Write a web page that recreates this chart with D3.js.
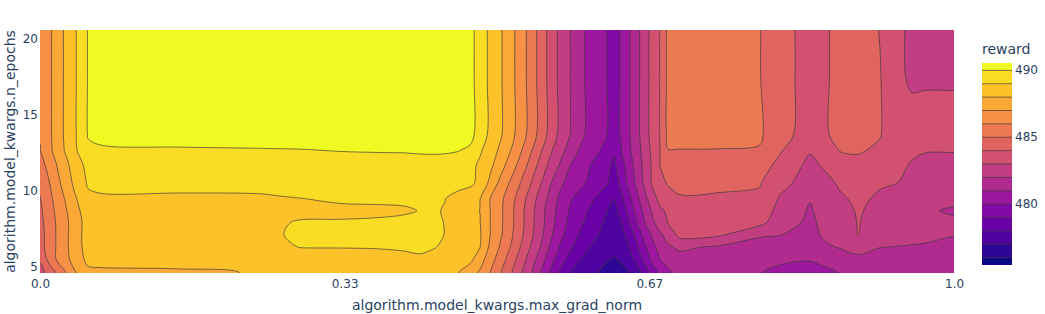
<!DOCTYPE html>
<html><head><meta charset="utf-8">
<script src="https://cdn.jsdelivr.net/npm/d3@7"></script>
<style>body{margin:0;background:#fff}svg{display:block}text{font-family:"DejaVu Sans",Verdana,sans-serif;fill:#2a3f5f}</style>
</head><body>
<svg id="chart" width="1045" height="314"></svg>
<script>
// ---- data ----
const xValues = [0, 0.0131, 0.0263, 0.0394, 0.0525, 0.0657, 0.1532, 0.2407, 0.2626, 0.2845, 0.3282, 0.3720, 0.3993, 0.4158, 0.4289, 0.4431, 0.4573,
  0.4705, 0.4814, 0.4923, 0.5033, 0.5142, 0.5252, 0.5361, 0.5471, 0.5580, 0.5689, 0.5799, 0.5908, 0.6018, 0.6127, 0.6204, 0.6280, 0.6357, 0.6433,
  0.6521, 0.6608, 0.6696, 0.6783, 0.6871, 0.7002, 0.7440, 0.7877, 0.8096, 0.8425, 0.8567, 0.8753, 0.8950, 0.9190, 0.9409, 0.9540, 0.9683, 1.0];
const yValues = [20.5, 17.3, 13.6, 12.6, 11.6, 10.4, 9.4, 8.6, 7.8, 7.0, 6.2, 5.4, 4.5];
// reward per x column, listed from top (n_epochs 20.5) to bottom (4.5)
const rewardByColumn = [
  [486.05,486.05,486.05,485.97,485.55,485.15,484.96,484.8,484.7,484.6,484.6,484.1,483.7],
  [487.03,487.03,487.03,486.99,486.6,486.2,485.96,485.82,485.73,485.7,485.7,485.7,484.56],
  [488.05,488.05,488.05,487.99,487.62,487.33,486.96,486.77,486.64,486.64,486.64,486.6,485.8],
  [488.98,488.98,488.98,488.92,488.54,488.31,487.96,487.75,487.58,487.64,487.64,487.46,486.98],
  [490.05,490.05,490.05,489.85,489.3,489.1,488.8,488.5,488.4,488.4,488.35,488.25,487.75],
  [490.3,490.3,490.2,489.9,489.6,489.22,488.88,488.7,488.55,488.5,488.45,488.3,487.8],
  [490.4,490.4,490.3,489.93,489.62,489.24,488.86,488.7,488.55,488.5,488.45,488.35,487.85],
  [490.45,490.45,490.32,489.96,489.64,489.26,488.88,488.72,488.55,488.55,488.5,488.35,488.05],
  [490.45,490.45,490.33,489.97,489.65,489.25,488.95,488.8,488.95,488.95,488.85,488.4,488.1],
  [490.45,490.45,490.33,489.98,489.67,489.3,488.99,488.85,489.05,489.2,489.02,488.5,488.15],
  [490.45,490.45,490.35,490.03,489.72,489.4,489.08,488.88,489.05,489.25,489.03,488.6,488.2],
  [490.45,490.45,490.35,490.05,489.75,489.45,489.1,488.9,489.08,489.25,489.05,488.7,488.25],
  [490.45,490.45,490.35,490.06,489.75,489.45,489.12,488.93,489.15,489.25,489.1,488.8,488.25],
  [490.45,490.45,490.35,490.08,489.78,489.45,489.15,489.02,489.2,489.25,489.12,488.9,488.25],
  [490.45,490.45,490.35,490.1,489.75,489.4,489.2,489.1,489.15,489.2,489.05,488.8,488.2],
  [490.45,490.45,490.35,490.1,489.7,489.35,489.02,488.95,488.98,488.98,488.9,488.6,488.1],
  [490.4,490.4,490.35,490.05,489.55,489.3,488.7,488.5,488.55,488.55,488.5,488.35,488.02],
  [490.3,490.3,490.3,489.85,489.3,489.2,488.35,488.2,488.28,488.31,488.2,488.25,487.44],
  [489.57,489.57,489.57,489.14,488.82,488.73,488.03,487.99,488.03,488.1,488.02,487.44,486.83],
  [488.79,488.79,488.79,488.5,488.24,487.78,487.02,487.02,487.02,487.02,486.82,486.45,486.02],
  [488.15,488.15,488.15,487.85,487.45,486.75,486.29,486.23,486.23,486.17,485.91,485.55,485.09],
  [487.39,487.39,487.39,487.08,486.58,485.91,485.45,485.36,485.36,485.27,485.02,484.6,484.18],
  [486.57,486.57,486.57,486.18,485.7,485.02,484.55,484.4,484.4,484.3,484.02,483.6,483.2],
  [485.67,485.67,485.67,485.2,484.7,484.09,483.6,483.4,483.4,483.3,483.02,482.6,482.2],
  [484.67,484.67,484.67,484.2,483.7,483.1,482.64,482.45,482.45,482.3,482.02,481.56,481.11],
  [483.67,483.67,483.67,483.2,482.75,482.1,481.7,481.5,481.44,481.22,480.9,480.44,479.89],
  [482.75,482.75,482.75,482.38,481.91,481.18,480.8,480.62,480.5,480.27,479.92,479.45,478.83],
  [482.02,482.02,482.02,481.62,481.02,480.65,480.13,479.9,479.76,479.53,479.15,478.67,478.02],
  [481.25,481.25,481.25,480.91,480.5,480.22,479.65,479.4,479.18,478.9,478.56,478.02,477.63],
  [480.71,480.71,480.71,480.45,480.02,479.79,479.22,478.89,478.65,478.4,478.02,477.62,477.26],
  [480.29,480.29,480.29,480.02,479.52,479.38,478.74,478.37,478.15,477.91,477.63,477.23,476.93],
  [479.99,479.99,479.99,479.6,479.19,479.08,478.38,478.02,477.82,477.61,477.36,477.05,476.76],
  [479.55,479.55,479.55,479.1,478.85,478.4,478.02,477.7,477.5,477.3,477.2,476.95,476.6],
  [480.1,480.1,480.1,479.95,479.5,479.25,478.78,478.29,477.94,477.71,477.49,477.08,476.76],
  [480.8,480.8,480.8,480.7,480.44,480.12,479.63,479.25,478.86,478.25,477.89,477.54,476.91],
  [481.6,481.6,481.6,481.5,481.33,481.12,480.63,480.25,479.88,479.25,478.75,478.25,477.44],
  [482.48,482.48,482.48,482.33,482.22,482.12,481.63,481.22,480.88,480.22,479.75,479.25,478.38],
  [483.32,483.32,483.32,483.2,483.11,483.09,482.56,482.09,481.78,481.09,480.67,480.2,479.38],
  [484.02,484.02,484.02,484.01,484.01,483.8,483.3,482.82,482.43,481.82,481.33,481.02,480.23],
  [485.25,485.25,485.25,484.98,484.3,484.05,483.7,483.15,483.02,482.35,481.87,481.2,480.85],
  [485.5,485.5,485.5,484.97,484.45,484.2,483.93,483.6,483.45,483.3,482.15,481.7,481.3],
  [485.6,485.6,485.55,484.95,484.5,484.15,483.9,483.6,483.4,483.1,481.85,481.4,481.15],
  [485.02,485.02,485.1,484.95,484.4,484.05,483.85,483.55,483.25,482.1,481.6,481.15,481.02],
  [484.5,484.5,484.45,484.1,483.75,483.3,482.9,482.7,482.45,482.02,481.6,481.1,480.85],
  [483.5,483.5,483.45,483.1,482.75,482.55,482.05,481.9,481.8,481.65,481.35,481.05,480.7],
  [483.85,483.85,483.85,483.4,483.1,482.6,482.4,482.3,482.2,482.1,481.85,481.2,480.8],
  [484.25,484.25,484.25,484.05,483.6,483.15,482.85,482.6,482.4,482.2,482.05,481.6,481.02],
  [484.45,484.45,484.45,484.1,483.75,483.4,483.2,483.1,483.05,483.02,482.3,481.8,481.5],
  [483.97,484.05,484.05,483.85,483.45,483.1,482.85,482.7,482.6,482.5,482.02,481.6,481.3],
  [483.1,483.1,483.3,483.2,483.1,482.98,482.8,482.7,482.6,482.45,481.95,481.5,481.3],
  [482.85,482.9,483.3,483.1,482.95,482.8,482.62,482.4,482.5,482.38,481.9,481.5,481.3],
  [482.4,482.92,483.3,483.05,482.8,482.6,482.45,482.1,482.4,482.3,481.85,481.5,481.3],
  [482.4,482.92,483.3,483.05,482.75,482.5,482.2,481.9,482.15,482.05,481.6,481.4,481.3]
];
const contourLevels = [476, 477, 478, 479, 480, 481, 482, 483, 484, 485, 486, 487, 488, 489, 490];
const colorbarRange = [475.45, 490.55];
const colorbarTicks = [480, 485, 490];
const xTickValues = [0, 1/3, 2/3, 1];
const xTickLabels = ["0.0", "0.33", "0.67", "1.0"];
const yTickValues = [5, 10, 15, 20];
const plasma = ['#0d0887','#46039f','#7201a8','#9c179e','#bd3786','#d8576b','#ed7953','#fb9f3a','#fdca26','#f0f921'];

// ---- layout ----
const M = {left: 40, right: 954, top: 30, bottom: 273};
const x = d3.scaleLinear().domain([0, 1]).range([M.left, M.right]);
const y = d3.scaleLinear().domain([4.5, 20.5]).range([M.bottom, M.top]);
const cs = d3.scaleLinear().domain(plasma.map((_, i) => i / (plasma.length - 1))).range(plasma).interpolate(d3.interpolateRgb);
const nLev = contourLevels.length;
const bandColor = k => cs(Math.max(0, Math.min(1, (k - contourLevels[0] + 1) / nLev)));

const svg = d3.select('#chart');
svg.append('defs').append('clipPath').attr('id', 'plotClip').append('rect')
  .attr('x', M.left).attr('y', M.top).attr('width', M.right - M.left).attr('height', M.bottom - M.top);

// padded grid (edge columns / rows repeated just outside the plot so borders are clean)
const nx = xValues.length, ny = yValues.length;
const gx = [xValues[0] - 0.03, ...xValues, xValues[nx - 1] + 0.03];
const gy = [yValues[0] + 0.4, ...yValues, yValues[ny - 1] - 0.4];
const NX = nx + 2, NY = ny + 2;
const grid = new Array(NX * NY);
for (let j = 0; j < NY; j++) {
  const jj = Math.min(Math.max(j - 1, 0), ny - 1);
  for (let i = 0; i < NX; i++) {
    const ii = Math.min(Math.max(i - 1, 0), nx - 1);
    grid[j * NX + i] = rewardByColumn[ii][jj];
  }
}
// detect d3-contour coordinate convention
const probe = d3.contours().size([3, 1]).thresholds([0.5])([0, 1, 1]);
let minX = Infinity;
probe[0].coordinates.forEach(p => p.forEach(r => r.forEach(pt => { if (pt[0] < minX) minX = pt[0]; })));
const off = minX - 0.5;
const ix = d3.scaleLinear().domain(d3.range(NX)).range(gx.map(x));
const iy = d3.scaleLinear().domain(d3.range(NY)).range(gy.map(y));
const lineGen = d3.line().curve(d3.curveCatmullRomClosed.alpha(0.5));
function pathFor(geom) {
  let s = '';
  for (const poly of geom.coordinates) for (const ring of poly) {
    const pts = ring.slice(0, -1).map(p => [ix(p[0] - off), iy(p[1] - off)]);
    if (pts.length > 2) s += lineGen(pts);
  }
  return s;
}
const contours = d3.contours().size([NX, NY]).thresholds(contourLevels)(grid);
const shapes = contours.map(c => ({value: c.value, d: pathFor(c)}));

const gPlot = svg.append('g').attr('clip-path', 'url(#plotClip)');
gPlot.append('rect').attr('x', M.left).attr('y', M.top).attr('width', M.right - M.left).attr('height', M.bottom - M.top)
  .attr('fill', bandColor(contourLevels[0] - 1));
gPlot.selectAll('path.fill').data(shapes).join('path').attr('class', 'fill')
  .attr('d', d => d.d).attr('fill', d => bandColor(d.value)).attr('fill-rule', 'evenodd');
gPlot.selectAll('path.iso').data(shapes).join('path').attr('class', 'iso')
  .attr('d', d => d.d).attr('fill', 'none').attr('stroke', '#3a3a3a').attr('stroke-opacity', 0.85).attr('stroke-width', 0.8);

// axes
const xAxis = svg.append('g').attr('transform', `translate(0,${M.bottom})`)
  .call(d3.axisBottom(x).tickValues(xTickValues).tickFormat((d, i) => xTickLabels[i]).tickSize(0).tickPadding(6));
const yAxis = svg.append('g').attr('transform', `translate(${M.left},0)`)
  .call(d3.axisLeft(y).tickValues(yTickValues).tickFormat(d3.format('d')).tickSize(0).tickPadding(2));
[xAxis, yAxis].forEach(a => { a.select('.domain').remove(); a.selectAll('text').attr('font-size', 12).attr('font-family', null).style('fill', '#2a3f5f'); });
yAxis.selectAll('text').attr('dy', '0.4em');

svg.append('text').attr('x', (M.left + M.right) / 2).attr('y', 310).attr('text-anchor', 'middle')
  .attr('font-size', 14).text('algorithm.model_kwargs.max_grad_norm');
svg.append('text').attr('transform', `translate(15,${(M.top + M.bottom) / 2}) rotate(-90)`).attr('text-anchor', 'middle')
  .attr('font-size', 14).text('algorithm.model_kwargs.n_epochs');

// colorbar
const cb = {x0: 982, x1: 1012, y0: 63, y1: 265};
const cbY = d3.scaleLinear().domain(colorbarRange).range([cb.y1, cb.y0]);
const bands = [contourLevels[0] - 1, ...contourLevels];
const gcb = svg.append('g');
gcb.selectAll('rect').data(bands).join('rect')
  .attr('x', cb.x0).attr('width', cb.x1 - cb.x0)
  .attr('y', k => cbY(Math.min(k + 1, colorbarRange[1])))
  .attr('height', k => cbY(Math.max(k, colorbarRange[0])) - cbY(Math.min(k + 1, colorbarRange[1])))
  .attr('fill', k => bandColor(k)).attr('shape-rendering', 'crispEdges');
gcb.selectAll('line').data(contourLevels).join('line')
  .attr('x1', cb.x0).attr('x2', cb.x1).attr('y1', k => cbY(k)).attr('y2', k => cbY(k))
  .attr('stroke', '#3a3a3a').attr('stroke-opacity', 0.85).attr('stroke-width', 0.8);
gcb.selectAll('text.tick').data(colorbarTicks).join('text').attr('class', 'tick')
  .attr('x', cb.x1 + 3).attr('y', k => cbY(k)).attr('dy', '0.3em').attr('font-size', 12).text(k => k);
svg.append('text').attr('x', cb.x0).attr('y', 54).attr('font-size', 14).text('reward');
</script>
</body></html>
